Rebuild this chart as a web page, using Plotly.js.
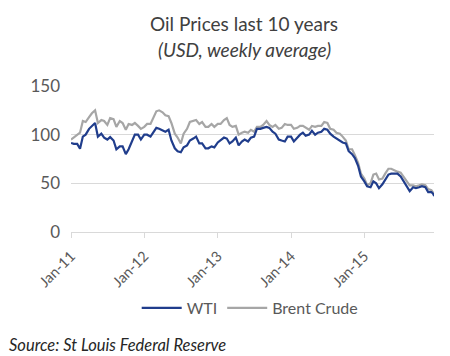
<!DOCTYPE html>
<html>
<head>
<meta charset="utf-8">
<script src="https://cdn.plot.ly/plotly-3.0.1.min.js"></script>
<style>html,body{margin:0;padding:0;background:#fff;}#chart{width:450px;height:356px;}</style>
</head>
<body>
<div id="chart"></div>
<script>
// semi-monthly dates (1st and 15th), 2011-2015
const years = [2011, 2012, 2013, 2014, 2015];
const dates = [];
years.forEach(y => {
  for (let m = 1; m <= 12; m++) {
    const mm = String(m).padStart(2, '0');
    dates.push(y + '-' + mm + '-01');
    dates.push(y + '-' + mm + '-15');
  }
});
dates.push('2015-12-10');

const wti = [
  91.5, 90.5, 90.5, 85.5, 98, 100, 106, 108.5, 112, 98, 101, 97, 95, 97.5, 94, 85, 88, 88, 80, 85, 93, 100, 100, 95,
  100, 100, 98, 102, 107, 106, 104, 103, 105, 94, 86, 83, 82, 87, 89, 94, 96, 98, 91, 91, 86, 86, 88, 87,
  92, 94, 97, 96, 91, 93, 97, 89, 93, 95, 93, 97, 98, 106, 106, 107, 108, 107, 103, 101, 95, 94, 93, 98,
  98, 93, 97, 100, 102, 99, 100, 104, 100, 102, 103, 106, 105, 101, 98, 96, 94, 92, 91, 83, 80, 76, 68, 57,
  52, 47, 46, 52, 50, 45, 49, 54, 59, 60, 60, 60, 57, 52, 47, 42, 46, 45, 46, 47, 46, 41, 41, 38, 37
];
const brent = [
  95, 97, 100, 102, 114, 113, 118, 122, 125, 112, 115, 114, 110, 117, 116, 108, 114, 112, 105, 111, 110, 112, 109, 106,
  108, 111, 111, 118, 124, 125, 123, 120, 119, 112, 101, 97, 91, 101, 106, 113, 114, 115, 111, 113, 108, 108, 111, 108,
  111, 111, 115, 117, 110, 108, 109, 100, 102, 103, 102, 105, 103, 108, 108, 110, 114, 110, 108, 110, 106, 107, 111, 110,
  110, 106, 107, 109, 109, 107, 105, 109, 108, 109, 109, 113, 112, 106, 105, 102, 101, 98, 94, 85, 85, 79, 71, 60,
  55, 48, 50, 59, 60, 54, 55, 60, 65, 65, 63, 62, 61, 57, 52, 48, 48, 47, 48, 49, 48, 44, 43, 39, 38
];
const tickVals = ['2011-01-01', '2012-01-01', '2013-01-01', '2014-01-01', '2015-01-01'];
const tickText = ['Jan-11', 'Jan-12', 'Jan-13', 'Jan-14', 'Jan-15'];
const seriesNames = ['WTI', 'Brent Crude'];

const FONT = 'Lato, "Open Sans", sans-serif';
const wtiTrace = {x: dates, y: wti, name: seriesNames[0], type: 'scatter', mode: 'lines',
   line: {color: '#203d8c', width: 2.2}, legendrank: 1};
const brentTrace = {x: dates, y: brent, name: seriesNames[1], type: 'scatter', mode: 'lines',
   line: {color: '#a6a6a6', width: 2.2}, legendrank: 2};
const plotData = [brentTrace, wtiTrace];

const layout = {
  width: 450, height: 356,
  margin: {l: 71, r: 16, t: 86, b: 124},
  paper_bgcolor: '#fff', plot_bgcolor: '#fff',
  font: {family: FONT, color: '#595959', size: 14},
  showlegend: true,
  legend: {orientation: 'h', x: 0.181, xanchor: 'left', y: -0.52, yanchor: 'middle',
           font: {family: FONT, size: 16, color: '#595959'}, itemwidth: 40, tracegroupgap: 0},
  xaxis: {
    type: 'date', range: ['2011-01-01', '2015-12-14'],
    tickmode: 'array', tickvals: tickVals, ticktext: tickText, tickangle: -45,
    tickfont: {family: FONT, size: 14.5, color: '#595959'},
    showgrid: false, showline: true, linecolor: '#d9d9d9', linewidth: 1,
    ticks: 'outside', ticklen: 5, tickcolor: '#d9d9d9', zeroline: false,
    ticklabelstandoff: 4
  },
  yaxis: {
    range: [0, 150], tickvals: [0, 50, 100, 150], ticktext: ['0', '50', '100', '150'],
    tickfont: {family: FONT, size: 17, color: '#595959'},
    showgrid: true, gridcolor: '#d9d9d9', gridwidth: 1, showline: false, zeroline: false,
    ticks: '', ticklabelstandoff: 10
  },
  annotations: [
    {text: 'Oil Prices last 10 years', xref: 'paper', yref: 'paper', x: 0.477, y: 1, yshift: 63,
     xanchor: 'center', yanchor: 'middle', showarrow: false,
     font: {family: FONT, size: 19, color: '#404040'}},
    {text: '<i>(USD, weekly average)</i>', xref: 'paper', yref: 'paper', x: 0.477, y: 1, yshift: 37,
     xanchor: 'center', yanchor: 'middle', showarrow: false,
     font: {family: FONT, size: 19, color: '#404040'}},
    {text: '<i>Source: St Louis Federal Reserve</i>', xref: 'paper', yref: 'paper', x: 0, xshift: -64, y: 0, yshift: -113,
     xanchor: 'left', yanchor: 'middle', showarrow: false,
     font: {family: FONT, size: 16.5, color: '#262626'}}
  ]
};
Plotly.newPlot('chart', plotData, layout, {displayModeBar: false, staticPlot: true});
</script>
</body>
</html>
